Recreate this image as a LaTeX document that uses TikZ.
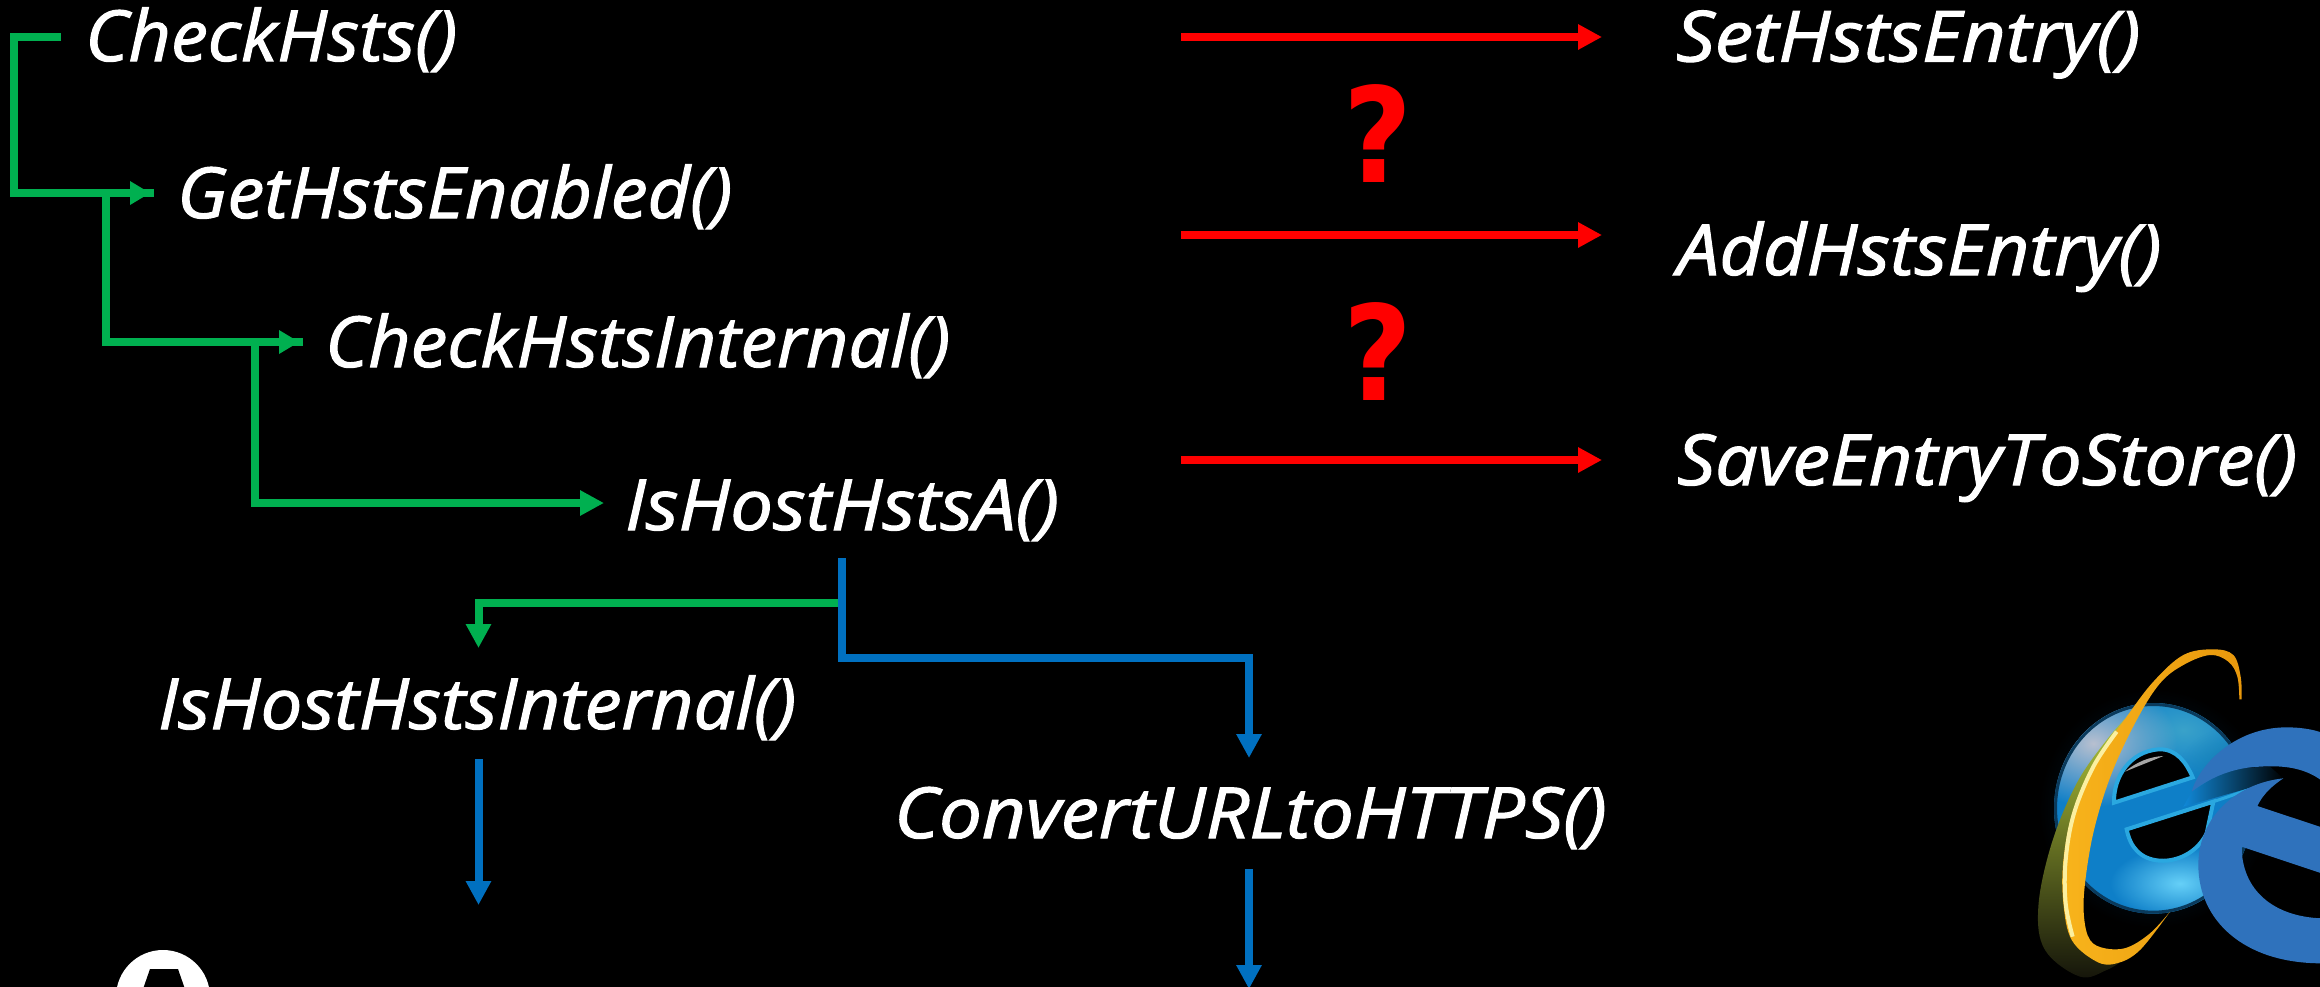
\documentclass[tikz,border=0pt]{standalone}
\usepackage{fontspec}
\newfontfamily\fnfont{Open Sans}[ItalicFeatures={FakeBold=1.5}]
\newfontfamily\qfont{DejaVu Sans}
\usetikzlibrary{arrows.meta,fadings}
\definecolor{grn}{HTML}{00B050}
\definecolor{blu}{HTML}{0070C0}
\definecolor{rd}{HTML}{FF0000}
\definecolor{edgeblue}{HTML}{2F72BC}
\definecolor{ieglow}{HTML}{03253E}
\definecolor{iebase}{HTML}{0E7FC8}
\definecolor{iegrey}{HTML}{B8C0D0}
\definecolor{ieteal}{HTML}{3AA2CA}
\definecolor{iedeep}{HTML}{1680B4}
\definecolor{iespot}{HTML}{66D0F8}
\definecolor{ierim}{HTML}{0A3A5C}
\definecolor{ieline}{HTML}{2AA8E0}
\definecolor{iebar}{HTML}{1088D8}
\definecolor{iebard}{HTML}{0A5C9C}
\definecolor{oliveT}{HTML}{B4CA3A}
\definecolor{oliveM}{HTML}{A09A30}
\definecolor{oliveB}{HTML}{14140A}
\definecolor{ringL}{HTML}{F8B41C}
\definecolor{ringR}{HTML}{E8980C}
\definecolor{ringH}{HTML}{FBEFA0}
\tikzfading[name=softc,inner color=transparent!0,outer color=transparent!100]
\tikzset{
 fn/.style={anchor=base west,inner sep=0pt,text=white,font=\fontsize{70.5}{80}\fnfont\itshape},
 qm/.style={anchor=base,inner sep=0pt,text=rd,font=\fontsize{132}{140}\selectfont\qfont\bfseries},
 tip/.style={-{Triangle[length=24pt,width=24pt]}},
 wire/.style={line width=8pt},
 gw/.style={wire,draw=grn},
 bw/.style={wire,draw=blu},
 rw/.style={wire,draw=rd,tip},
 soft/.style={path fading=softc,fit fading=true},
}
\begin{document}
\begin{tikzpicture}[x=1pt,y=-1pt]
\useasboundingbox (0,0) rectangle (2320,986);
\fill[black] (-3,-3) rectangle (2323,989);
\clip (-3,-3) rectangle (2323,989);
\node[fn] (chk) at (85,61) {\scalebox{1.046}[1]{CheckHsts()}};
\node[fn] (get) at (177,218) {\scalebox{1.048}[1]{GetHstsEnabled()}};
\node[fn] (int) at (325,367) {\scalebox{1.042}[1]{CheckHstsInternal()}};
\node[fn] (isa) at (625,530) {\scalebox{1.078}[1]{IsHostHstsA()}};
\node[fn] (ihi) at (158,729) {\scalebox{1.051}[1]{IsHostHstsInternal()}};
\node[fn] (cvt) at (894,838) {\scalebox{1.081}[1]{ConvertURLtoHTTPS()}};
\node[fn] (set) at (1676,61.5) {\scalebox{1.088}[1]{SetHstsEntry()}};
\node[fn] (add) at (1677,275) {\scalebox{1.067}[1]{AddHstsEntry()}};
\node[fn] (sav) at (1677,485) {\scalebox{1.069}[1]{SaveEntryToStore()}};
\node[qm] (q1) at (1378,182) {\scalebox{.9}[1]{?}};
\node[qm] (q2) at (1378,400) {\scalebox{.9}[1]{?}};
% free ends
\coordinate (a0) at (61,37); \coordinate (a1) at (13.5,37); \coordinate (a2) at (13.5,193);
\coordinate (a3) at (154,193);
\coordinate (b0) at (106,193); \coordinate (b1) at (106,342); \coordinate (b2) at (303,342);
\coordinate (c0) at (254.5,342); \coordinate (c1) at (254.5,503); \coordinate (c2) at (604,503);
\draw[gw] (a0)--(a1)--(a2)--(a3);
\fill[grn] (130,181)--(150,193)--(130,205)--cycle;
\draw[gw] (b0)--(b1)--(b2);
\fill[grn] (279,330)--(299,342)--(279,354)--cycle;
\draw[gw,tip] (c0)--(c1)--(c2);
\coordinate (g0) at (838,603); \coordinate (g1) at (478.5,603); \coordinate (g2) at (478.5,648);
\draw[gw,tip] (g0)--(g1)--(g2);
\coordinate (d0) at (842,558); \coordinate (d1) at (842,658); \coordinate (d2) at (1249,658); \coordinate (d3) at (1249,758);
\draw[bw,tip] (d0)--(d1)--(d2)--(d3);
\coordinate (e0) at (478.5,759); \coordinate (e1) at (478.5,905);
\draw[bw,tip] (e0)--(e1);
\coordinate (f0) at (1249,869); \coordinate (f1) at (1249,989);
\draw[bw,tip] (f0)--(f1);
\foreach \yy/\nm in {37/r1,235/r2,460/r3}{
 \coordinate (\nm s) at (1181,\yy); \coordinate (\nm e) at (1602,\yy);
 \draw[rw] (\nm s)--(\nm e);
}
% padlock
\fill[white] (163,997) circle (47);
\fill[black] (150,969)--(178,969)--(186,992)--(142,992)--cycle;
% logos, in crop coordinates
\begin{scope}[shift={(1950,620)},x=0.33333pt,y=-0.33333pt]
 % glow
 \fill[soft,ieglow] (610,565) ellipse (345 and 360);
 % globe
 \begin{scope}
  \clip (610,565) ellipse (298 and 316);
  \fill[iebase] (300,240) rectangle (920,890);
  \fill[soft,ieteal] (700,330) ellipse (240 and 150);
  \fill[soft,iegrey] (430,370) ellipse (250 and 190);
  \fill[soft,iedeep] (860,440) ellipse (170 and 120);
  \fill[soft,iespot] (690,790) ellipse (210 and 110);
  \draw[line width=6,ierim] (610,565) ellipse (298 and 316);
 \end{scope}
 % counters
 \filldraw[fill=black,draw=ieline,line width=4]
   (492,548) .. controls (490,470) and (540,395) .. (625,388)
   .. controls (680,385) and (710,430) .. (728,472) -- cycle;
 \fill[gray!70] (525,455) .. controls (560,425) and (600,410) .. (640,408)
   .. controls (600,425) and (560,440) .. cycle;
 \filldraw[fill=black,draw=ieline,line width=4]
   (530,628) -- (790,545) -- (770,640)
   .. controls (740,700) and (680,725) .. (630,722)
   .. controls (570,718) and (540,680) .. cycle;
 % IE bar running behind the Edge logo
 \shade[left color=iebar,middle color=iebard,right color=black]
   (700,560) -- (1000,475) -- (960,440) -- (830,445) -- (725,515) -- cycle;
 \draw[ieline,line width=3] (530,628) -- (790,545) -- (900,508);
 % olive crescent
 \shade[top color=oliveT,middle color=oliveM,bottom color=oliveB]
   plot[smooth,tension=.6] coordinates {(545,275) (470,360) (380,490) (305,670) (265,860) (285,990) (390,1070) (470,1050) (520,1020)}
   -- plot[smooth,tension=.6] coordinates {(440,1025) (365,960) (340,850) (340,720) (370,570) (440,420) (530,290)} -- cycle;
 % orange ring
 \shade[left color=ringL,right color=ringR]
   plot[smooth,tension=.6] coordinates {(875,238) (872,170) (850,105) (790,88) (700,105) (610,185) (530,290) (440,420) (370,570) (340,720) (340,850) (365,960) (440,1025) (500,1030) (570,990) (660,875)}
   -- plot[smooth,tension=.6] coordinates {(660,875) (600,940) (530,983) (465,985) (420,960) (402,890) (405,790) (432,630) (485,460) (560,300) (630,190) (700,135) (780,105) (835,125) (862,170) (868,238)} -- cycle;
 \draw[ringH,line width=4] plot[smooth,tension=.6] coordinates {(500,335) (430,440) (372,580) (347,720) (347,850) (368,950)};
 % Edge logo
 \fill[edgeblue]
   (725,515) .. controls (745,440) and (850,322) .. (1010,322)
   .. controls (1050,322) and (1090,328) .. (1115,338)
   -- (1115,482) .. controls (1060,440) and (990,436) .. (930,440)
   .. controls (860,442) and (790,465) .. (725,515) -- cycle;
 \fill[edgeblue]
   (1000,475) .. controls (860,490) and (745,590) .. (745,735)
   .. controls (745,900) and (880,1030) .. (1115,1030)
   -- (1115,895) .. controls (970,890) and (875,810) .. (875,680)
   -- (1115,760) -- (1115,622) -- (922,558)
   .. controls (940,520) and (970,495) .. (1000,475) -- cycle;
\end{scope}
\end{tikzpicture}
\end{document}
